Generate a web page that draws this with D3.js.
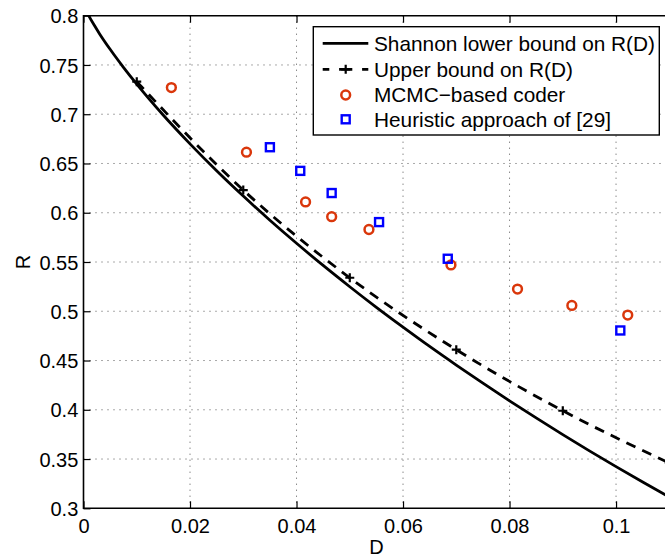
<!DOCTYPE html>
<html>
<head>
<meta charset="utf-8">
<script src="https://cdn.jsdelivr.net/npm/d3@7"></script>
<style>
  html, body { margin: 0; padding: 0; background: #fff; }
  svg { display: block; }
  text { font-family: "Liberation Sans", Arial, Helvetica, sans-serif; fill: #000; }
</style>
</head>
<body>
<svg id="chart" width="665" height="556"></svg>
<script>
// ---- data ----
const slbD = [0.0005, 0.001, 0.002, 0.003, 0.005, 0.0075, 0.01, 0.015, 0.02, 0.025, 0.03, 0.035, 0.04, 0.045, 0.05, 0.055, 0.06, 0.065, 0.07, 0.075, 0.08, 0.085, 0.09, 0.095, 0.1, 0.105, 0.11];
const slbR = [0.805, 0.7999, 0.7905, 0.7818, 0.7659, 0.7476, 0.7305, 0.6989, 0.6699, 0.6426, 0.6169, 0.5924, 0.569, 0.5465, 0.5249, 0.504, 0.4839, 0.4643, 0.4454, 0.427, 0.4091, 0.3918, 0.3748, 0.3583, 0.3423, 0.3267, 0.3114];

const ubD = [0.01, 0.03, 0.05, 0.07, 0.09, 0.11];
const ubR = [0.733, 0.623, 0.534, 0.461, 0.399, 0.346];

const mcmcD = [0.0165, 0.0306, 0.0417, 0.0466, 0.0536, 0.069, 0.0815, 0.0917, 0.1022];
const mcmcR = [0.727, 0.6615, 0.611, 0.596, 0.583, 0.547, 0.5225, 0.5059, 0.4961];

const heurD = [0.035, 0.0407, 0.0466, 0.0555, 0.0684, 0.1008];
const heurR = [0.6665, 0.6425, 0.620, 0.5905, 0.5533, 0.4805];

const xTicks = [0, 0.02, 0.04, 0.06, 0.08, 0.1];
const xTickLabels = ["0", "0.02", "0.04", "0.06", "0.08", "0.1"];
const yTicks = [0.3, 0.35, 0.4, 0.45, 0.5, 0.55, 0.6, 0.65, 0.7, 0.75, 0.8];
const yTickLabels = ["0.3", "0.35", "0.4", "0.45", "0.5", "0.55", "0.6", "0.65", "0.7", "0.75", "0.8"];

const legendLabels = ["Shannon lower bound on R(D)", "Upper bound on R(D)", "MCMC\u2212based coder", "Heuristic approach of [29]"];

// ---- layout ----
const pL = 83.5, pR = 669.3, pT = 15.7, pB = 508.3;
const fs = 20;
const red = "#da370b", blue = "#0000ff";

const svg = d3.select("#chart");
const x = d3.scaleLinear().domain([0, 0.11]).range([pL, pR]);
const y = d3.scaleLinear().domain([0.3, 0.8]).range([pB, pT]);

svg.append("defs").append("clipPath").attr("id", "clip")
  .append("rect").attr("x", pL).attr("y", pT).attr("width", pR - pL).attr("height", pB - pT);

// grid
const grid = svg.append("g").attr("stroke", "#555").attr("stroke-width", 1).attr("stroke-dasharray", "1,5");
grid.selectAll("line.gx").data(xTicks.slice(1)).join("line").attr("class", "gx")
  .attr("x1", d => x(d)).attr("x2", d => x(d)).attr("y1", pT).attr("y2", pB);
grid.selectAll("line.gy").data(yTicks.slice(1, -1)).join("line").attr("class", "gy")
  .attr("y1", d => y(d)).attr("y2", d => y(d)).attr("x1", pL).attr("x2", pR);

// axes via d3
const tickLen = 7;
const xAxisB = d3.axisBottom(x).tickValues(xTicks).tickFormat((d, i) => xTickLabels[i]).tickSizeInner(-tickLen).tickSizeOuter(0).tickPadding(12);
const gxb = svg.append("g").attr("transform", `translate(0,${pB})`).call(xAxisB);
const xAxisT = d3.axisTop(x).tickValues(xTicks).tickFormat("").tickSizeInner(-tickLen).tickSizeOuter(0);
const gxt = svg.append("g").attr("transform", `translate(0,${pT})`).call(xAxisT);
const yAxisL = d3.axisLeft(y).tickValues(yTicks).tickFormat((d, i) => yTickLabels[i]).tickSizeInner(-tickLen).tickSizeOuter(0).tickPadding(5);
const gyl = svg.append("g").attr("transform", `translate(${pL},0)`).call(yAxisL);

[gxb, gxt, gyl].forEach(g => {
  g.select(".domain").remove();
  g.selectAll(".tick line").attr("stroke", "#000").attr("stroke-width", 1.2);
  g.selectAll(".tick text").style("font-size", fs + "px").attr("fill", "#000")
    .style("font-family", "'Liberation Sans', Arial, sans-serif");
});
gxb.selectAll(".tick text").attr("dy", null).attr("y", 24.5);
gyl.selectAll(".tick text").attr("dy", "0.36em").attr("x", -5.2);

// frame
svg.append("path").attr("fill", "none").attr("stroke", "#000").attr("stroke-width", 1.6)
  .attr("d", `M${pR},${pT}H${pL}V${pB}H${pR}`);

// series
const plot = svg.append("g").attr("clip-path", "url(#clip)");

plot.append("path").datum(slbD.map((d, i) => [d, slbR[i]]))
  .attr("fill", "none").attr("stroke", "#000").attr("stroke-width", 2.8)
  .attr("d", d3.line().x(d => x(d[0])).y(d => y(d[1])).curve(d3.curveMonotoneX));

const ubPts = ubD.map((d, i) => [d, ubR[i]]);
plot.append("path").datum(ubPts)
  .attr("fill", "none").attr("stroke", "#000").attr("stroke-width", 2.8).attr("stroke-dasharray", "10,7.5")
  .attr("d", d3.line().x(d => x(d[0])).y(d => y(d[1])).curve(d3.curveMonotoneX));

const plusPath = "M-4.5,0H4.5M0,-4.5V4.5";
plot.selectAll("path.plus").data(ubPts).join("path")
  .attr("class", "plus").attr("d", plusPath)
  .attr("transform", d => `translate(${x(d[0])},${y(d[1])})`)
  .attr("stroke", "#000").attr("stroke-width", 2.2).attr("fill", "none");

plot.selectAll("circle.mc").data(mcmcD.map((d, i) => [d, mcmcR[i]])).join("circle")
  .attr("class", "mc").attr("cx", d => x(d[0])).attr("cy", d => y(d[1])).attr("r", 4.4)
  .attr("fill", "none").attr("stroke", red).attr("stroke-width", 2.5);

const sq = 8;
plot.selectAll("rect.hu").data(heurD.map((d, i) => [d, heurR[i]])).join("rect")
  .attr("class", "hu").attr("x", d => x(d[0]) - sq / 2).attr("y", d => y(d[1]) - sq / 2)
  .attr("width", sq).attr("height", sq)
  .attr("fill", "none").attr("stroke", blue).attr("stroke-width", 2.4);

// legend
const lg = svg.append("g");
lg.append("rect").attr("x", 313.3).attr("y", 26.7).attr("width", 659.3 - 313.3).attr("height", 135 - 26.7)
  .attr("fill", "#fff").attr("stroke", "#000").attr("stroke-width", 1.4);
const rowY = [43.3, 69.3, 95, 119.3];
const lx0 = 322.7, lx1 = 368.3, lxm = 345.7, tx = 374;
lg.append("line").attr("x1", lx0).attr("x2", lx1).attr("y1", rowY[0]).attr("y2", rowY[0])
  .attr("stroke", "#000").attr("stroke-width", 2.8);
lg.append("line").attr("x1", lx0).attr("x2", lx1).attr("y1", rowY[1]).attr("y2", rowY[1])
  .attr("stroke", "#000").attr("stroke-width", 2.8).attr("stroke-dasharray", "6.6,9.8,13.2,9.8");
lg.append("path").attr("d", plusPath).attr("transform", `translate(${lxm},${rowY[1]})`)
  .attr("stroke", "#000").attr("stroke-width", 2.2);
lg.append("circle").attr("cx", lxm).attr("cy", rowY[2]).attr("r", 4.4)
  .attr("fill", "none").attr("stroke", red).attr("stroke-width", 2.5);
lg.append("rect").attr("x", lxm - sq / 2).attr("y", rowY[3] - sq / 2).attr("width", sq).attr("height", sq)
  .attr("fill", "none").attr("stroke", blue).attr("stroke-width", 2.4);
lg.selectAll("text").data(legendLabels).join("text")
  .attr("x", tx).attr("y", (d, i) => rowY[i]).attr("dy", "0.36em")
  .style("font-size", "20.8px").text(d => d);

// axis labels
svg.append("text").attr("x", (pL + pR) / 2).attr("y", 553.5).attr("text-anchor", "middle")
  .style("font-size", fs + "px").text("D");
svg.append("text").attr("transform", `translate(29.8,${(pT + pB) / 2}) rotate(-90)`)
  .attr("text-anchor", "middle").style("font-size", fs + "px").text("R");
</script>
</body>
</html>
